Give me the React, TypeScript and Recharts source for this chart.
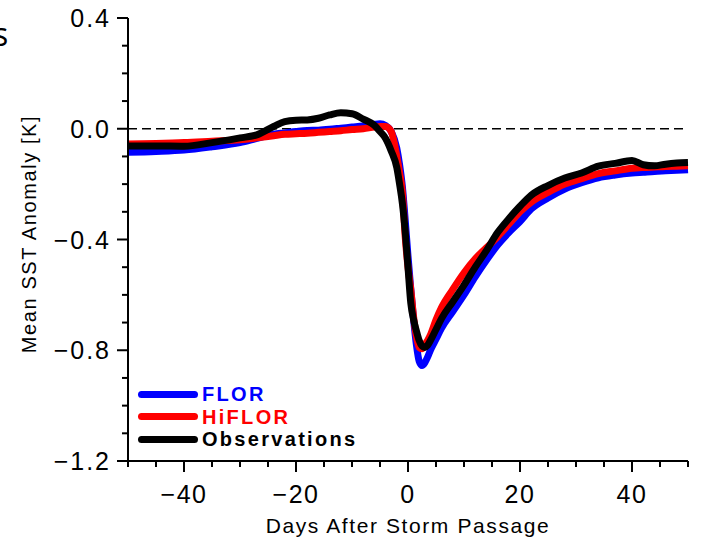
import React from "react";
import { LineChart, Line, XAxis, YAxis, ReferenceLine, Legend } from "recharts";

// days after storm passage (finer grid around the cold wake drop)
const days = [
  -50, -45, -40, -35, -30, -27, -24, -22, -20, -18, -16, -14, -12, -10, -8, -6, -5, -4, -3, -2, -1.5, -1,
  -0.5, 0, 0.5, 1, 1.5, 2, 2.5, 3, 3.5, 4, 5, 6, 8, 10, 12, 14, 16, 18, 20, 22, 25, 28, 31, 34, 37, 40,
  42, 44, 46, 48, 50,
];

const flor = [
  -0.085, -0.082, -0.077, -0.065, -0.05, -0.035, -0.02, -0.015, -0.01, -0.006, -0.005, -0.002, 0.002,
  0.006, 0.01, 0.016, 0.018, 0.012, -0.01, -0.07, -0.13, -0.21, -0.33, -0.46, -0.58, -0.69, -0.78, -0.84,
  -0.855, -0.845, -0.825, -0.8, -0.76, -0.72, -0.66, -0.6, -0.535, -0.475, -0.42, -0.375, -0.335, -0.29,
  -0.25, -0.218, -0.195, -0.177, -0.167, -0.16, -0.157, -0.154, -0.152, -0.15, -0.148,
];

const hiflor = [
  -0.055, -0.053, -0.05, -0.045, -0.04, -0.033, -0.025, -0.02, -0.018, -0.016, -0.013, -0.01, -0.007,
  -0.003, 0.0, 0.006, 0.008, 0.008, -0.01, -0.1, -0.16, -0.23, -0.39, -0.5, -0.58, -0.68, -0.75, -0.79,
  -0.795, -0.78, -0.765, -0.745, -0.69, -0.645, -0.58, -0.52, -0.47, -0.43, -0.39, -0.345, -0.3, -0.265,
  -0.23, -0.2, -0.18, -0.162, -0.152, -0.143, -0.14, -0.138, -0.136, -0.135, -0.134,
];

const observations = [
  -0.062, -0.062, -0.063, -0.05, -0.033, -0.022, 0.008, 0.026, 0.031, 0.032, 0.038, 0.05, 0.058, 0.054,
  0.035, 0.012, -0.01, -0.035, -0.08, -0.14, -0.2, -0.27, -0.37, -0.5, -0.63, -0.69, -0.73, -0.765,
  -0.785, -0.79, -0.782, -0.765, -0.725, -0.685, -0.625, -0.565, -0.5, -0.44, -0.375, -0.325, -0.28,
  -0.24, -0.205, -0.178, -0.16, -0.135, -0.125, -0.115, -0.13, -0.134, -0.128, -0.124, -0.122,
];

const xTicks = [-50, -45, -40, -35, -30, -25, -20, -15, -10, -5, 0, 5, 10, 15, 20, 25, 30, 35, 40, 45, 50];
const yTicks = [-1.2, -1.1, -1.0, -0.9, -0.8, -0.7, -0.6, -0.5, -0.4, -0.3, -0.2, -0.1, 0, 0.1, 0.2, 0.3, 0.4];

const seriesNames = ["FLOR", "HiFLOR", "Observations"];
const seriesColors = ["#0000ff", "#ff0000", "#000000"];

const data = days.map((d, i) => ({
  day: d,
  flor: flor[i],
  hiflor: hiflor[i],
  obs: observations[i],
}));

const FONT = "'Liberation Sans', Arial, Helvetica, sans-serif";
const MAJOR = 11;
const MINOR = 6;

const isMajorX = (v: number) => v % 20 === 0;
const isMajorY = (v: number) => Math.abs(v / 0.4 - Math.round(v / 0.4)) < 1e-6;
const fmt = (s: string) => s.replace("-", "\u2212");

const BottomTick = ({ x, y, payload }: any) => {
  const major = isMajorX(payload.value);
  return (
    <g>
      <line x1={x} y1={y} x2={x} y2={y + (major ? MAJOR : MINOR)} stroke="#000" strokeWidth={2} />
      {major && (
        <text x={x} y={y + 42} textAnchor="middle" fontSize={25} letterSpacing={1.5} fill="#000" fontFamily={FONT}>
          {fmt(String(payload.value))}
        </text>
      )}
    </g>
  );
};

const TopTick = ({ x, y, payload }: any) => {
  const major = isMajorX(payload.value);
  return <line x1={x} y1={y} x2={x} y2={y - (major ? MAJOR : MINOR)} stroke="#000" strokeWidth={2} />;
};

const LeftTick = ({ x, y, payload }: any) => {
  const major = isMajorY(payload.value);
  return (
    <g>
      <line x1={x} y1={y} x2={x - (major ? MAJOR : MINOR)} y2={y} stroke="#000" strokeWidth={2} />
      {major && (
        <text x={x - 17} y={y + 9} textAnchor="end" fontSize={25} letterSpacing={2} fill="#000" fontFamily={FONT}>
          {fmt(Number(payload.value).toFixed(1))}
        </text>
      )}
    </g>
  );
};

const RightTick = ({ x, y, payload }: any) => {
  const major = isMajorY(payload.value);
  return <line x1={x} y1={y} x2={x + (major ? MAJOR : MINOR)} y2={y} stroke="#000" strokeWidth={2} />;
};

// axis titles ignore the props Recharts passes to labels
const XTitle = () => (
  <text x={408} y={533} textAnchor="middle" fontSize={21} letterSpacing={1.6} fill="#000" fontFamily={FONT}>
    Days After Storm Passage
  </text>
);

const YTitle = () => (
  <text
    x={0}
    y={0}
    transform="translate(29 234) rotate(-90)"
    textAnchor="middle"
    dominantBaseline="central"
    fontSize={20}
    letterSpacing={1.6}
    fill="#000"
    fontFamily={FONT}
  >
    Mean SST Anomaly [K]
  </text>
);

const LegendBox = () => (
  <div style={{ fontFamily: FONT }}>
    {seriesNames.map((name, i) => (
      <div key={name} style={{ display: "flex", alignItems: "center", height: 22.5 }}>
        <div style={{ width: 60, height: 7, borderRadius: 3.5, background: seriesColors[i], marginRight: 4 }} />
        <span style={{ color: seriesColors[i], fontWeight: "bold", fontSize: 20, letterSpacing: 2.3, lineHeight: "20px" }}>
          {name}
        </span>
      </div>
    ))}
  </div>
);

export default function App() {
  return (
    <div style={{ position: "absolute", left: 0, top: 0, width: 705, height: 540, background: "#fff" }}>
      <div style={{ position: "absolute", left: -7, top: 12, fontSize: 32, fontFamily: "'Open Sans', sans-serif" }}>s</div>
      <LineChart width={705} height={540} data={data} margin={{ top: 18, right: 17, bottom: 0, left: 0 }}>
        <XAxis
          dataKey="day"
          type="number"
          domain={[-50, 50]}
          ticks={xTicks}
          interval={0}
          height={79}
          tickSize={0}
          tickMargin={0}
          tickLine={false}
          axisLine={{ stroke: "#000", strokeWidth: 2 }}
          tick={<BottomTick />}
          label={<XTitle />}
        />
        <XAxis
          xAxisId="top"
          dataKey="day"
          type="number"
          orientation="top"
          domain={[-50, 50]}
          ticks={xTicks}
          interval={0}
          height={0}
          tickSize={0}
          tickMargin={0}
          tickLine={false}
          axisLine={{ stroke: "#000", strokeWidth: 2 }}
          tick={<TopTick />}
        />
        <YAxis
          type="number"
          domain={[-1.2, 0.4]}
          ticks={yTicks}
          interval={0}
          width={128}
          tickSize={0}
          tickMargin={0}
          tickLine={false}
          axisLine={{ stroke: "#000", strokeWidth: 2 }}
          tick={<LeftTick />}
          label={<YTitle />}
        />
        <YAxis
          yAxisId="right"
          orientation="right"
          type="number"
          domain={[-1.2, 0.4]}
          ticks={yTicks}
          interval={0}
          width={0}
          tickSize={0}
          tickMargin={0}
          tickLine={false}
          axisLine={{ stroke: "#000", strokeWidth: 2 }}
          tick={<RightTick />}
        />
        <ReferenceLine y={0} stroke="#000" strokeWidth={1.5} strokeDasharray="9 5" />
        <Line dataKey="flor" type="monotone" stroke={seriesColors[0]} strokeWidth={7} dot={false} isAnimationActive={false} />
        <Line dataKey="hiflor" type="monotone" stroke={seriesColors[1]} strokeWidth={7} dot={false} isAnimationActive={false} />
        <Line dataKey="obs" type="monotone" stroke={seriesColors[2]} strokeWidth={7} dot={false} isAnimationActive={false} />
        <Legend
          layout="vertical"
          align="center"
          verticalAlign="middle"
          content={<LegendBox />}
          wrapperStyle={{ position: "absolute", left: 138, top: 383, width: 260, height: 70 }}
        />
      </LineChart>
    </div>
  );
}
